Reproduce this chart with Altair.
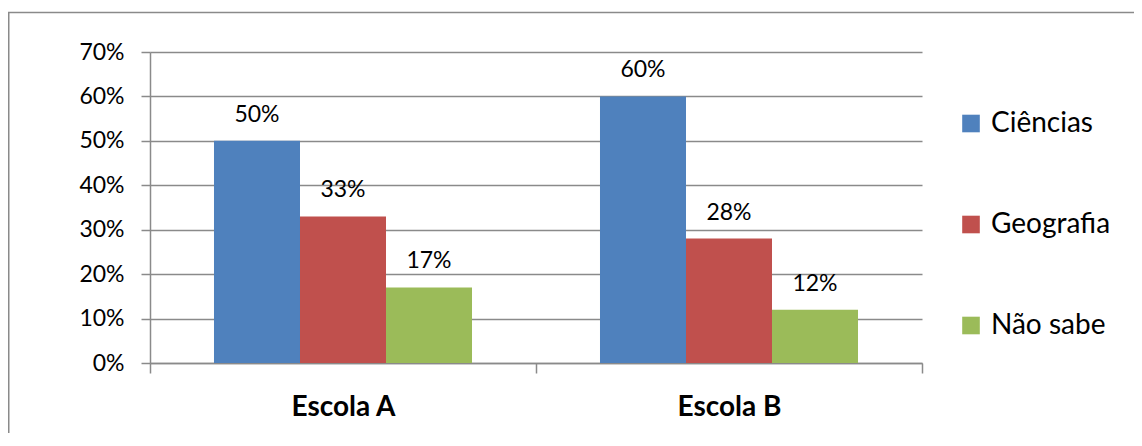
import altair as alt
import pandas as pd

escolas = ["Escola A", "Escola B"]
series = ["Ciências", "Geografia", "Não sabe"]
ciencias = [0.50, 0.60]
geografia = [0.33, 0.28]
nao_sabe = [0.17, 0.12]
colors = ["#4F81BD", "#C0504D", "#9BBB59"]
y_ticks = [0, 0.1, 0.2, 0.3, 0.4, 0.5, 0.6, 0.7]

rows = []
for s, vals in zip(series, [ciencias, geografia, nao_sabe]):
    for e, v in zip(escolas, vals):
        rows.append({"escola": e, "serie": s, "valor": v})
df = pd.DataFrame(rows)

FONT = "Lato"
GRAY = "#8a8a8a"

x = alt.X("escola:N", scale=alt.Scale(domain=escolas, paddingInner=0, paddingOuter=0),
          axis=alt.Axis(title=None, labelAngle=0, tickBand="extent", tickSize=10,
                        tickColor=GRAY, tickWidth=1.5, domainColor=GRAY, domainWidth=1.5,
                        grid=False, labelFont=FONT, labelFontWeight="bold", labelFontSize=28,
                        labelColor="black", labelPadding=20))
xo = alt.XOffset("serie:N", scale=alt.Scale(domain=series, paddingInner=0, paddingOuter=0.744))
y = alt.Y("valor:Q", scale=alt.Scale(domain=[0, 0.7], nice=False),
          axis=alt.Axis(title=None, values=y_ticks, format=".0%", grid=True, gridColor=GRAY,
                        gridWidth=1.5, tickSize=9, tickColor=GRAY, tickWidth=1.5,
                        domainColor=GRAY, domainWidth=1.5, labelFont=FONT, labelFontSize=23,
                        labelColor="black", labelPadding=17))

base = alt.Chart(df).encode(x=x, xOffset=xo, y=y)

bars = base.mark_bar().encode(
    color=alt.Color("serie:N", scale=alt.Scale(domain=series, range=colors),
                    legend=alt.Legend(title=None, orient="none", legendX=807, legendY=57.5,
                                      symbolType="square", symbolSize=310, symbolStrokeWidth=0,
                                      labelFont=FONT, labelFontSize=28, labelColor="black",
                                      labelOffset=6, rowPadding=73, padding=0))
)

labels = base.mark_text(baseline="alphabetic", dy=-19, font=FONT, fontSize=23, color="black").encode(
    text=alt.Text("valor:Q", format=".0%")
)

frame = alt.Chart(alt.Data(values=[{}])).mark_rect(fillOpacity=0, stroke=GRAY, strokeWidth=1.5).encode(
    x=alt.value(-141.25), y=alt.value(-39.5), x2=alt.value(1100), y2=alt.value(500)
)

chart = alt.layer(frame, bars, labels).properties(
    width=772, height=311,
    autosize=alt.AutoSizeParams(type="none"),
    padding={"left": 142, "top": 44, "right": 212, "bottom": 70},
).configure_view(stroke=None)

chart.save("out.html", embed_options={"renderer": "svg", "actions": False})
